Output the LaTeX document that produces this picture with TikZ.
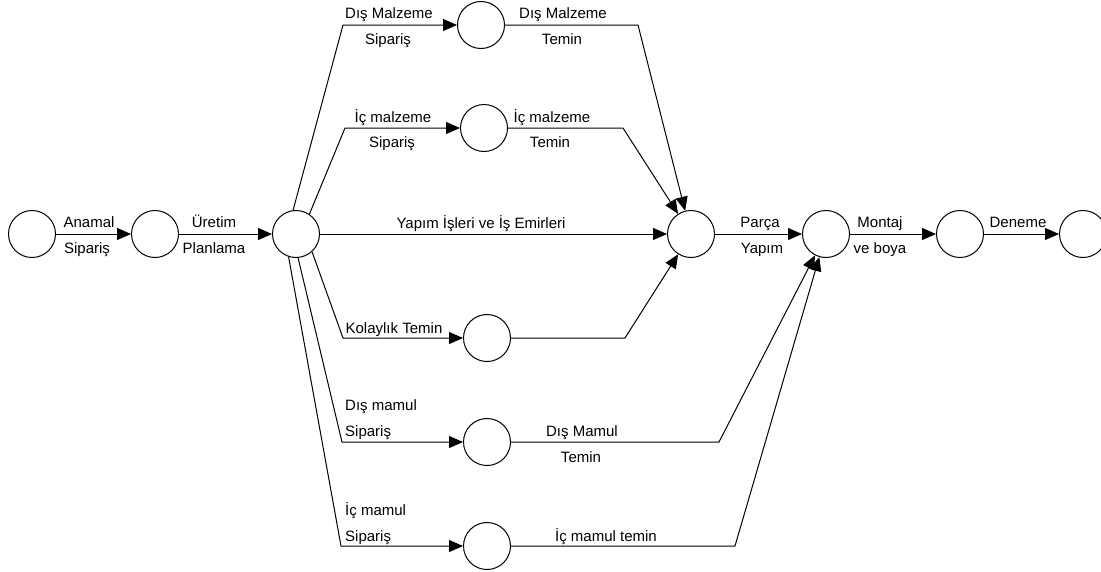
\documentclass[tikz,border=0pt]{standalone}
\usepackage{fontspec}
\setmainfont{Liberation Sans}
\usetikzlibrary{arrows.meta}
\tikzset{
  ev/.style={circle,draw,line width=1pt,minimum size=47pt,inner sep=0pt,fill=white},
  arr/.style={line width=1pt,-{Triangle[length=14pt,width=12pt]}},
  lbl/.style={inner sep=0pt,anchor=base,font=\fontsize{15}{18}\selectfont},
  lbll/.style={lbl,anchor=base west}
}
\begin{document}
\begin{tikzpicture}[x=1pt,y=-1pt]
\useasboundingbox (0,0) rectangle (1101,571);
% events
\node[ev] (n1) at (32,234) {};
\node[ev] (n2) at (155,234) {};
\node[ev] (n3) at (296,234) {};
\node[ev] (a) at (481,25) {};
\node[ev] (b) at (484,128) {};
\node[ev] (n4) at (691,234) {};
\node[ev] (c) at (487,338) {};
\node[ev] (d) at (487,442) {};
\node[ev] (e) at (487,546) {};
\node[ev] (n5) at (826,234) {};
\node[ev] (n6) at (960,234) {};
\node[ev] (n7) at (1083,234) {};
% bends
\coordinate (a1) at (343,25);
\coordinate (a2) at (638,25);
\coordinate (b1) at (345,128);
\coordinate (b2) at (623,128);
\coordinate (c1) at (343,338);
\coordinate (c2) at (625,338);
\coordinate (d1) at (342,442);
\coordinate (d2) at (719,442);
\coordinate (e1) at (341,546);
\coordinate (e2) at (735,546);
% activities
\draw[arr] (n1) -- (n2);
\draw[arr] (n2) -- (n3);
\draw[arr] (n3.97) -- (a1) -- (a);
\draw[arr] (a) -- (a2) -- (n4);
\draw[arr] (n3.56) -- (b1) -- (b);
\draw[arr] (b) -- (b2) -- (n4);
\draw[arr] (n3) -- (n4);
\draw[arr] (n3.-48) -- (c1) -- (c);
\draw[arr] (c) -- (c2) -- (n4);
\draw[arr] (n3.-85) -- (d1) -- (d);
\draw[arr] (d) -- (d2) -- (n5);
\draw[arr] (n3.-108) -- (e1) -- (e);
\draw[arr] (e) -- (e2) -- (n5);
\draw[arr] (n4) -- (n5);
\draw[arr] (n5) -- (n6);
\draw[arr] (n6) -- (n7);
% labels
\node[lbl] (l1) at (89,227) {Anamal};
\node[lbl] (l2) at (87,253) {Sipariş};
\node[lbl] (l3) at (214,227) {Üretim};
\node[lbl] (l4) at (214,253) {Planlama};
\node[lbl] (l5) at (389,18) {Dış Malzeme};
\node[lbl] (l6) at (388,44) {Sipariş};
\node[lbl] (l7) at (563,18) {Dış Malzeme};
\node[lbl] (l8) at (562,44) {Temin};
\node[lbl] (l9) at (393,122) {İç malzeme};
\node[lbl] (l10) at (392,147) {Sipariş};
\node[lbl] (l11) at (552,122) {İç malzeme};
\node[lbl] (l12) at (550,147) {Temin};
\node[lbl] (l13) at (481,228) {Yapım İşleri ve İş Emirleri};
\node[lbl] (l14) at (394,333) {Kolaylık Temin};
\node[lbll] (l15) at (345,410) {Dış mamul};
\node[lbll] (l16) at (345,436) {Sipariş};
\node[lbl] (l17) at (582,436) {Dış Mamul};
\node[lbl] (l18) at (581,462) {Temin};
\node[lbll] (l19) at (345,515) {İç mamul};
\node[lbll] (l20) at (345,541) {Sipariş};
\node[lbl] (l21) at (606,541) {İç mamul temin};
\node[lbl] (l22) at (760,227) {Parça};
\node[lbl] (l23) at (762,253) {Yapım};
\node[lbl] (l24) at (880,227) {Montaj};
\node[lbl] (l25) at (880,253) {ve boya};
\node[lbl] (l26) at (1018,227) {Deneme};
\end{tikzpicture}
\end{document}
